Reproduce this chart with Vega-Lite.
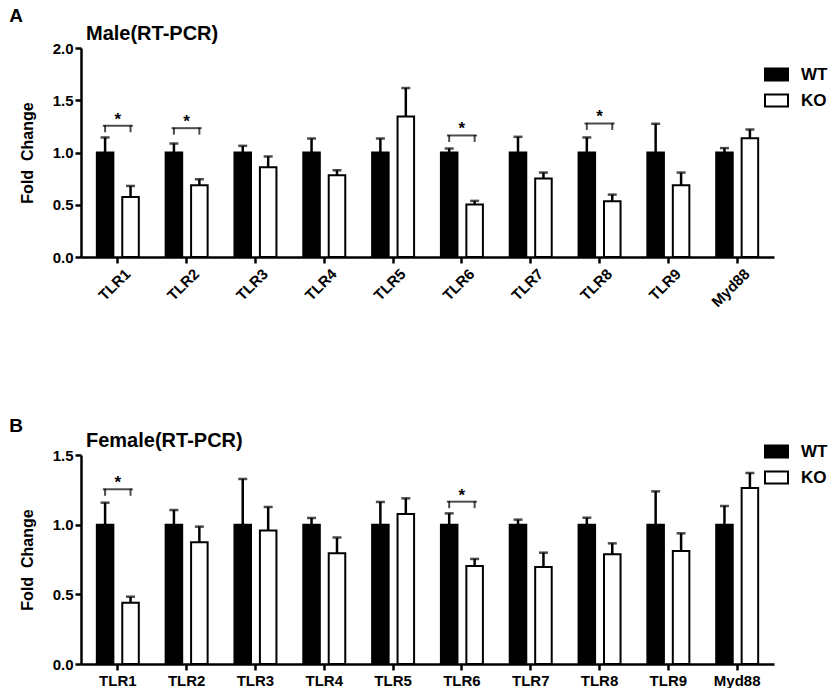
{
  "$schema": "https://vega.github.io/schema/vega-lite/v6.json",
  "padding": {"left": 9, "top": 7, "right": 5, "bottom": 0},
  "spacing": 107,
  "resolve": {"scale": {"fill": "independent"}, "legend": {"fill": "independent"}},
  "datasets": {
    "male": [
      {"gene": "TLR1", "group": "WT", "mean": 1.0, "upper": 1.144},
      {"gene": "TLR1", "group": "KO", "mean": 0.575, "upper": 0.68},
      {"gene": "TLR2", "group": "WT", "mean": 1.0, "upper": 1.086},
      {"gene": "TLR2", "group": "KO", "mean": 0.687, "upper": 0.744},
      {"gene": "TLR3", "group": "WT", "mean": 1.0, "upper": 1.064},
      {"gene": "TLR3", "group": "KO", "mean": 0.859, "upper": 0.962},
      {"gene": "TLR4", "group": "WT", "mean": 1.0, "upper": 1.134},
      {"gene": "TLR4", "group": "KO", "mean": 0.783, "upper": 0.831},
      {"gene": "TLR5", "group": "WT", "mean": 1.0, "upper": 1.134},
      {"gene": "TLR5", "group": "KO", "mean": 1.345, "upper": 1.617},
      {"gene": "TLR6", "group": "WT", "mean": 1.0, "upper": 1.038},
      {"gene": "TLR6", "group": "KO", "mean": 0.502, "upper": 0.537},
      {"gene": "TLR7", "group": "WT", "mean": 1.0, "upper": 1.15},
      {"gene": "TLR7", "group": "KO", "mean": 0.751, "upper": 0.808},
      {"gene": "TLR8", "group": "WT", "mean": 1.0, "upper": 1.144},
      {"gene": "TLR8", "group": "KO", "mean": 0.534, "upper": 0.597},
      {"gene": "TLR9", "group": "WT", "mean": 1.0, "upper": 1.275},
      {"gene": "TLR9", "group": "KO", "mean": 0.687, "upper": 0.808},
      {"gene": "Myd88", "group": "WT", "mean": 1.0, "upper": 1.042},
      {"gene": "Myd88", "group": "KO", "mean": 1.137, "upper": 1.22}
    ],
    "male_sig": [
      {"gene": "TLR1", "group": "WT", "level": 1.256},
      {"gene": "TLR1", "group": "KO", "level": 1.256},
      {"gene": "TLR2", "group": "WT", "level": 1.233},
      {"gene": "TLR2", "group": "KO", "level": 1.233},
      {"gene": "TLR6", "group": "WT", "level": 1.163},
      {"gene": "TLR6", "group": "KO", "level": 1.163},
      {"gene": "TLR8", "group": "WT", "level": 1.278},
      {"gene": "TLR8", "group": "KO", "level": 1.278}
    ],
    "female": [
      {"gene": "TLR1", "group": "WT", "mean": 1.0, "upper": 1.158},
      {"gene": "TLR1", "group": "KO", "mean": 0.44, "upper": 0.483},
      {"gene": "TLR2", "group": "WT", "mean": 1.0, "upper": 1.105},
      {"gene": "TLR2", "group": "KO", "mean": 0.873, "upper": 0.986},
      {"gene": "TLR3", "group": "WT", "mean": 1.0, "upper": 1.328},
      {"gene": "TLR3", "group": "KO", "mean": 0.959, "upper": 1.127},
      {"gene": "TLR4", "group": "WT", "mean": 1.0, "upper": 1.048},
      {"gene": "TLR4", "group": "KO", "mean": 0.794, "upper": 0.907},
      {"gene": "TLR5", "group": "WT", "mean": 1.0, "upper": 1.163},
      {"gene": "TLR5", "group": "KO", "mean": 1.077, "upper": 1.189},
      {"gene": "TLR6", "group": "WT", "mean": 1.0, "upper": 1.081},
      {"gene": "TLR6", "group": "KO", "mean": 0.703, "upper": 0.754},
      {"gene": "TLR7", "group": "WT", "mean": 1.0, "upper": 1.036},
      {"gene": "TLR7", "group": "KO", "mean": 0.696, "upper": 0.799},
      {"gene": "TLR8", "group": "WT", "mean": 1.0, "upper": 1.05},
      {"gene": "TLR8", "group": "KO", "mean": 0.787, "upper": 0.866},
      {"gene": "TLR9", "group": "WT", "mean": 1.0, "upper": 1.239},
      {"gene": "TLR9", "group": "KO", "mean": 0.811, "upper": 0.938},
      {"gene": "Myd88", "group": "WT", "mean": 1.0, "upper": 1.134},
      {"gene": "Myd88", "group": "KO", "mean": 1.263, "upper": 1.371}
    ],
    "female_sig": [
      {"gene": "TLR1", "group": "WT", "level": 1.254},
      {"gene": "TLR1", "group": "KO", "level": 1.254},
      {"gene": "TLR6", "group": "WT", "level": 1.165},
      {"gene": "TLR6", "group": "KO", "level": 1.165}
    ]
  },
  "vconcat": [
    {
      "title": {"text": "A", "anchor": "start", "frame": "bounds", "fontSize": 19, "dx": -10, "offset": -2},
      "vconcat": [
        {
          "title": {"text": "Male(RT-PCR)", "anchor": "start", "frame": "group", "fontSize": 20, "dx": 5, "offset": -3},
          "width": 693,
          "height": 209,
          "layer": [
            {
              "data": {"name": "male"},
              "mark": {"type": "bar", "stroke": "black", "strokeWidth": 2},
              "encoding": {
                "x": {
                  "field": "gene", "type": "nominal", "sort": null, "title": null,
                  "scale": {"paddingInner": 0.39, "paddingOuter": 0.23},
                  "axis": {"labelAngle": -45, "labelFontSize": 15, "labelOffset": 5, "labelPadding": 3}
                },
                "xOffset": {"field": "group", "scale": {"domain": ["WT", "KO"], "paddingInner": 0.35}},
                "y": {
                  "field": "mean", "type": "quantitative", "title": "Fold\u00a0\u00a0Change",
                  "scale": {"domain": [0, 2], "nice": false},
                  "axis": {"values": [0, 0.5, 1, 1.5, 2], "format": ".1f"}
                },
                "fill": {
                  "field": "group", "type": "nominal", "title": null,
                  "scale": {"domain": ["WT", "KO"], "range": ["black", "white"]},
                  "legend": {"legendX": 683, "legendY": 14}
                }
              }
            },
            {
              "data": {"name": "male"},
              "mark": {"type": "rule", "strokeWidth": 2.5, "color": "black"},
              "encoding": {
                "x": {"field": "gene", "type": "nominal", "sort": null},
                "xOffset": {"field": "group", "scale": {"domain": ["WT", "KO"]}},
                "y": {"field": "mean", "type": "quantitative"},
                "y2": {"field": "upper"}
              }
            },
            {
              "data": {"name": "male"},
              "mark": {"type": "tick", "orient": "horizontal", "size": 9, "thickness": 2.5, "color": "black"},
              "encoding": {
                "x": {"field": "gene", "type": "nominal", "sort": null},
                "xOffset": {"field": "group", "scale": {"domain": ["WT", "KO"]}},
                "y": {"field": "upper", "type": "quantitative"}
              }
            },
            {
              "data": {"name": "male_sig"},
              "transform": [{"filter": "datum.group === 'WT'"}],
              "mark": {"type": "tick", "orient": "horizontal", "size": 30, "thickness": 2, "color": "black"},
              "encoding": {
                "x": {"field": "gene", "type": "nominal", "sort": null},
                "y": {"field": "level", "type": "quantitative"}
              }
            },
            {
              "data": {"name": "male_sig"},
              "mark": {"type": "tick", "orient": "vertical", "size": 7, "thickness": 2, "color": "black", "yOffset": 3},
              "encoding": {
                "x": {"field": "gene", "type": "nominal", "sort": null},
                "xOffset": {"field": "group", "scale": {"domain": ["WT", "KO"]}},
                "y": {"field": "level", "type": "quantitative"}
              }
            },
            {
              "data": {"name": "male_sig"},
              "transform": [{"filter": "datum.group === 'WT'"}],
              "mark": {"type": "text", "text": "*", "fontSize": 17, "fontWeight": "bold", "baseline": "middle", "dy": -6, "font": "Liberation Sans"},
              "encoding": {
                "x": {"field": "gene", "type": "nominal", "sort": null},
                "y": {"field": "level", "type": "quantitative"}
              }
            }
          ]
        }
      ]
    },
    {
      "title": {"text": "B", "anchor": "start", "frame": "bounds", "fontSize": 19, "dx": -10, "offset": -5},
      "vconcat": [
        {
          "title": {"text": "Female(RT-PCR)", "anchor": "start", "frame": "group", "fontSize": 20, "dx": 5, "offset": -3},
          "width": 693,
          "height": 209,
          "layer": [
            {
              "data": {"name": "female"},
              "mark": {"type": "bar", "stroke": "black", "strokeWidth": 2},
              "encoding": {
                "x": {
                  "field": "gene", "type": "nominal", "sort": null, "title": null,
                  "scale": {"paddingInner": 0.39, "paddingOuter": 0.23},
                  "axis": {"labelAngle": 0, "labelFontSize": 15, "labelPadding": 3}
                },
                "xOffset": {"field": "group", "scale": {"domain": ["WT", "KO"], "paddingInner": 0.35}},
                "y": {
                  "field": "mean", "type": "quantitative", "title": "Fold\u00a0\u00a0Change",
                  "scale": {"domain": [0, 1.5], "nice": false},
                  "axis": {"values": [0, 0.5, 1, 1.5], "format": ".1f"}
                },
                "fill": {
                  "field": "group", "type": "nominal", "title": null,
                  "scale": {"domain": ["WT", "KO"], "range": ["black", "white"]},
                  "legend": {"legendX": 683, "legendY": -16}
                }
              }
            },
            {
              "data": {"name": "female"},
              "mark": {"type": "rule", "strokeWidth": 2.5, "color": "black"},
              "encoding": {
                "x": {"field": "gene", "type": "nominal", "sort": null},
                "xOffset": {"field": "group", "scale": {"domain": ["WT", "KO"]}},
                "y": {"field": "mean", "type": "quantitative"},
                "y2": {"field": "upper"}
              }
            },
            {
              "data": {"name": "female"},
              "mark": {"type": "tick", "orient": "horizontal", "size": 9, "thickness": 2.5, "color": "black"},
              "encoding": {
                "x": {"field": "gene", "type": "nominal", "sort": null},
                "xOffset": {"field": "group", "scale": {"domain": ["WT", "KO"]}},
                "y": {"field": "upper", "type": "quantitative"}
              }
            },
            {
              "data": {"name": "female_sig"},
              "transform": [{"filter": "datum.group === 'WT'"}],
              "mark": {"type": "tick", "orient": "horizontal", "size": 30, "thickness": 2, "color": "black"},
              "encoding": {
                "x": {"field": "gene", "type": "nominal", "sort": null},
                "y": {"field": "level", "type": "quantitative"}
              }
            },
            {
              "data": {"name": "female_sig"},
              "mark": {"type": "tick", "orient": "vertical", "size": 7, "thickness": 2, "color": "black", "yOffset": 3},
              "encoding": {
                "x": {"field": "gene", "type": "nominal", "sort": null},
                "xOffset": {"field": "group", "scale": {"domain": ["WT", "KO"]}},
                "y": {"field": "level", "type": "quantitative"}
              }
            },
            {
              "data": {"name": "female_sig"},
              "transform": [{"filter": "datum.group === 'WT'"}],
              "mark": {"type": "text", "text": "*", "fontSize": 17, "fontWeight": "bold", "baseline": "middle", "dy": -6, "font": "Liberation Sans"},
              "encoding": {
                "x": {"field": "gene", "type": "nominal", "sort": null},
                "y": {"field": "level", "type": "quantitative"}
              }
            }
          ]
        }
      ]
    }
  ],
  "config": {
    "font": "Liberation Sans",
    "view": {"stroke": null},
    "title": {"font": "Liberation Sans", "fontWeight": "bold", "color": "black"},
    "axis": {
      "labelFont": "Liberation Sans",
      "labelFontWeight": "bold",
      "labelFontSize": 15,
      "labelColor": "black",
      "titleFont": "Liberation Sans",
      "titleFontWeight": "bold",
      "titleFontSize": 16,
      "titleColor": "black",
      "domainColor": "black",
      "domainWidth": 2.5,
      "tickColor": "black",
      "tickWidth": 2.5,
      "tickSize": 6,
      "grid": false,
      "labelPadding": 2
    },
    "axisY": {"titlePadding": 17},
    "legend": {
      "orient": "none",
      "symbolType": "M-1,-0.52H1V0.52H-1Z",
      "symbolSize": 529,
      "symbolStrokeColor": "black",
      "symbolStrokeWidth": 2,
      "labelFont": "Liberation Sans",
      "labelFontWeight": "bold",
      "labelFontSize": 17,
      "labelColor": "black",
      "labelOffset": 12,
      "rowPadding": 3
    }
  }
}
